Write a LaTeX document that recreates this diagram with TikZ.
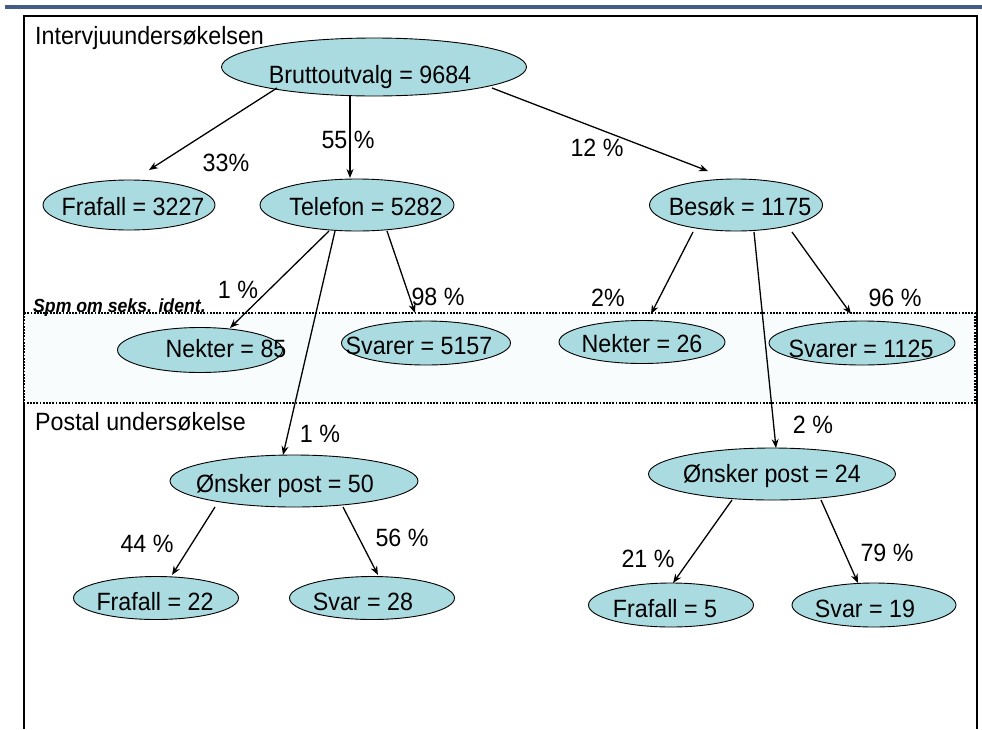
\documentclass[tikz,border=0pt]{standalone}
\usepackage{fontspec}
\setmainfont[FakeStretch=0.93]{Liberation Sans}
\usetikzlibrary{calc,arrows.meta,shapes.geometric}
\definecolor{ovalfill}{RGB}{170,219,224}
\definecolor{bandfill}{RGB}{248,252,252}
\definecolor{barblue}{RGB}{67,92,135}
\tikzset{
  oval/.style={ellipse, draw=black, line width=0.9pt, fill=ovalfill, inner sep=0pt},
  txt/.style={font=\fontsize{25}{30}\selectfont, inner sep=0pt, anchor=base},
  pct/.style={font=\fontsize{25}{30}\selectfont, inner sep=0pt, anchor=base},
  arr/.style={line width=1.3pt, -{Stealth[length=9pt,width=7pt]}},
}
\begin{document}
\begin{tikzpicture}[x=1pt,y=-1pt]
\useasboundingbox (0,0) rectangle (982,729);
% top bar
\draw[barblue, line width=4pt] (5,7) -- (982,7);
% frame
\draw[line width=2.2pt] (24,729) -- (24,16) -- (977,16) -- (977,729);
% band
\fill[bandfill] (24,313) rectangle (975,403);
\draw[line width=2.2pt, dash pattern=on 1.8pt off 1.4pt] (24,313) rectangle (975,403);
% section titles
\node[txt, anchor=base west] (title1) at (35,44) {Intervjuundersøkelsen};
\node[txt, anchor=base west] (title2) at (35,430) {Postal undersøkelse};
\node[inner sep=0pt, anchor=base west, font=\fontsize{19}{22}\selectfont\bfseries\itshape] (spm) at (33,312) {Spm om seks. ident.};

% ellipses
\node[oval, minimum width=305pt, minimum height=58pt] (brutto) at (374,67) {};
\node[oval, minimum width=172pt, minimum height=50pt] (fra3227) at (129,205) {};
\node[oval, minimum width=194pt, minimum height=52pt] (tel) at (357,205) {};
\node[oval, minimum width=173pt, minimum height=52pt] (besok) at (736,205) {};
\node[oval, minimum width=165pt, minimum height=45pt] (nek85) at (200,350) {};
\node[oval, minimum width=169pt, minimum height=44pt] (sv5157) at (426,343) {};
\node[oval, minimum width=166pt, minimum height=43pt] (nek26) at (642,342) {};
\node[oval, minimum width=186pt, minimum height=44pt] (sv1125) at (862,343) {};
\node[oval, minimum width=248pt, minimum height=52pt] (ons50) at (294,481) {};
\node[oval, minimum width=247pt, minimum height=52pt] (ons24) at (772,474) {};
\node[oval, minimum width=165pt, minimum height=43pt] (fra22) at (156,598) {};
\node[oval, minimum width=165pt, minimum height=43pt] (sv28) at (372,598) {};
\node[oval, minimum width=165pt, minimum height=44pt] (fra5) at (671,605) {};
\node[oval, minimum width=164pt, minimum height=44pt] (sv19) at (874,605) {};

% ellipse texts
\node[txt] (tbrutto) at (370,83) {Bruttoutvalg = 9684};
\node[txt] (tfra3227) at (133,215) {Frafall = 3227};
\node[txt] (ttel) at (366,215) {Telefon = 5282};
\node[txt] (tbesok) at (740,215) {Besøk = 1175};
\node[txt] (tnek85) at (226,357) {Nekter = 85};
\node[txt] (tsv5157) at (419,354) {Svarer = 5157};
\node[txt] (tnek26) at (642,352) {Nekter = 26};
\node[txt] (tsv1125) at (861,357) {Svarer = 1125};
\node[txt] (tons50) at (285,492) {Ønsker post = 50};
\node[txt] (tons24) at (772,482) {Ønsker post = 24};
\node[txt] (tfra22) at (155,610) {Frafall = 22};
\node[txt] (tsv28) at (363,610) {Svar = 28};
\node[txt] (tfra5) at (665,617) {Frafall = 5};
\node[txt] (tsv19) at (865,617) {Svar = 19};

% arrows
\draw[arr] ($(brutto)+(-97,21)$) -- ($(fra3227)+(20,-35)$);
\draw[arr] ($(brutto)+(-24,29)$) -- ($(tel)+(-7,-27)$);
\draw[arr] ($(brutto)+(118,21)$) -- ($(besok)+(-28,-34)$);
\draw[arr] ($(tel)+(-28,26)$) -- ($(nek85)+(30,-22)$);
\draw[arr] ($(tel)+(-22,26)$) -- ($(ons50)+(-11,-26)$);
\draw[arr] ($(tel)+(30,26)$) -- ($(sv5157)+(-11,-30)$);
\draw[arr] ($(besok)+(-43,27)$) -- ($(nek26)+(9,-28)$);
\draw[arr] ($(besok)+(18,27)$) -- ($(ons24)+(4,-26)$);
\draw[arr] ($(besok)+(56,27)$) -- ($(sv1125)+(-11,-29)$);
\draw[arr] ($(ons50)+(-79,26)$) -- ($(fra22)+(16,-23)$);
\draw[arr] ($(ons50)+(49,26)$) -- ($(sv28)+(6,-23)$);
\draw[arr] ($(ons24)+(-40,26)$) -- ($(fra5)+(2,-22)$);
\draw[arr] ($(ons24)+(49,26)$) -- ($(sv19)+(-16,-22)$);

% percentages
\node[pct] (p33) at (226,171) {33\%};
\node[pct] (p55) at (348,148) {55 \%};
\node[pct] (p12) at (597,156) {12 \%};
\node[pct] (p1a) at (238,298) {1 \%};
\node[pct] (p98) at (438,305) {98 \%};
\node[pct] (p2a) at (608,306) {2\%};
\node[pct] (p96) at (895,306) {96 \%};
\node[pct] (p1b) at (320,442) {1 \%};
\node[pct] (p2b) at (813,433) {2 \%};
\node[pct] (p44) at (147,552) {44 \%};
\node[pct] (p56) at (402,546) {56 \%};
\node[pct] (p21) at (648,567) {21 \%};
\node[pct] (p79) at (887,561) {79 \%};
\end{tikzpicture}
\end{document}
